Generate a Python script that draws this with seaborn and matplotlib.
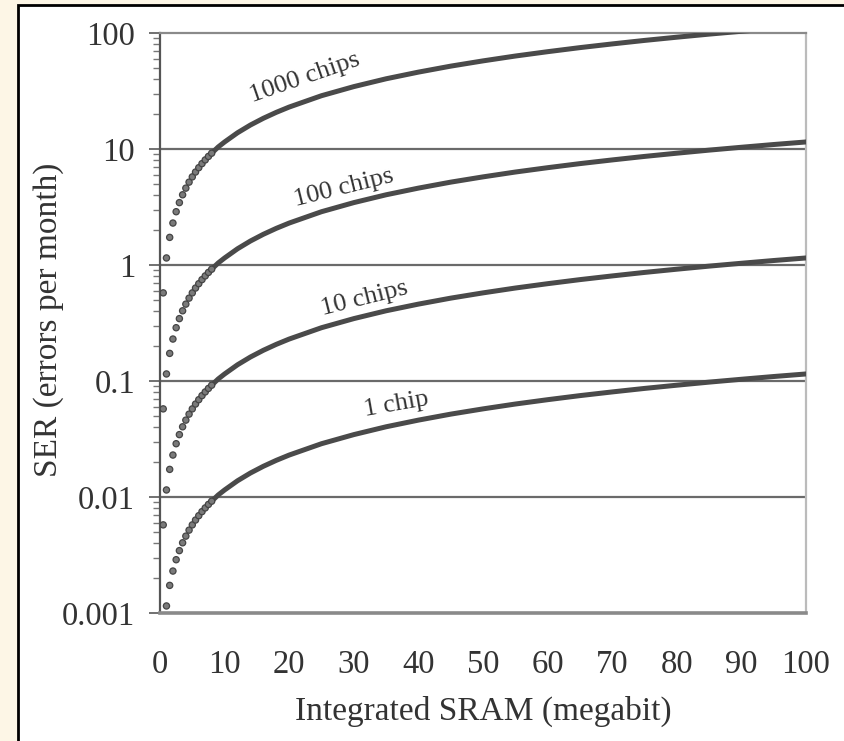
import numpy as np
import pandas as pd
import matplotlib
matplotlib.use("Agg")
import matplotlib.pyplot as plt
import matplotlib.ticker as mticker
from matplotlib.patches import Rectangle
import seaborn as sns

# ---- data ----
series_names = ["1 chip", "10 chips", "100 chips", "1000 chips"]

mbit_dots = [0.5, 1.0, 1.5, 2.0, 2.5, 3.0, 3.5, 4.0, 4.5, 5.0, 5.5, 6.0, 6.5, 7.0, 7.5, 8.0]
ser_1_dots = [0.000575, 0.00115, 0.00173, 0.0023, 0.00288, 0.00345, 0.00403, 0.0046,
              0.00518, 0.00575, 0.00633, 0.0069, 0.00748, 0.00805, 0.00863, 0.0092]
ser_10_dots = [0.00575, 0.0115, 0.0173, 0.023, 0.0288, 0.0345, 0.0403, 0.046,
               0.0518, 0.0575, 0.0633, 0.069, 0.0748, 0.0805, 0.0863, 0.092]
ser_100_dots = [0.0575, 0.115, 0.173, 0.23, 0.288, 0.345, 0.403, 0.46,
                0.518, 0.575, 0.633, 0.69, 0.748, 0.805, 0.863, 0.92]
ser_1000_dots = [0.575, 1.15, 1.73, 2.3, 2.88, 3.45, 4.03, 4.6,
                 5.18, 5.75, 6.33, 6.9, 7.48, 8.05, 8.63, 9.2]

mbit_line = [7.5, 8, 9, 10, 12, 14, 16, 18, 20, 25, 30, 35, 40, 45, 50, 55, 60,
             65, 70, 75, 80, 85, 90, 95, 100]
ser_1_line = [0.00863, 0.0092, 0.0104, 0.0115, 0.0138, 0.0161, 0.0184, 0.0207, 0.023,
              0.0288, 0.0345, 0.0403, 0.046, 0.0518, 0.0575, 0.0633, 0.069, 0.0748,
              0.0805, 0.0863, 0.092, 0.0978, 0.1035, 0.1093, 0.115]
ser_10_line = [0.0863, 0.092, 0.104, 0.115, 0.138, 0.161, 0.184, 0.207, 0.23,
               0.288, 0.345, 0.403, 0.46, 0.518, 0.575, 0.633, 0.69, 0.748,
               0.805, 0.863, 0.92, 0.978, 1.035, 1.093, 1.15]
ser_100_line = [0.863, 0.92, 1.04, 1.15, 1.38, 1.61, 1.84, 2.07, 2.3,
                2.88, 3.45, 4.03, 4.6, 5.18, 5.75, 6.33, 6.9, 7.48,
                8.05, 8.63, 9.2, 9.78, 10.35, 10.93, 11.5]
ser_1000_line = [8.63, 9.2, 10.4, 11.5, 13.8, 16.1, 18.4, 20.7, 23,
                 28.8, 34.5, 40.3, 46, 51.8, 57.5, 63.3, 69, 74.8,
                 80.5, 86.3, 92, 97.8, 103.5, 109.3, 115]

x_ticks = [0, 10, 20, 30, 40, 50, 60, 70, 80, 90, 100]
y_ticks = [0.001, 0.01, 0.1, 1, 10, 100]
y_tick_labels = ["0.001", "0.01", "0.1", "1", "10", "100"]

# label placement (data coords) and angle
label_x = [36.6, 31.6, 28.5, 22.4]
label_y = [0.063, 0.51, 4.6, 41.0]
label_rot = [10, 14, 14, 19]

# ---- build tables ----
dots = pd.DataFrame({
    "mbit": mbit_dots * 4,
    "ser": ser_1_dots + ser_10_dots + ser_100_dots + ser_1000_dots,
    "series": sum([[n] * len(mbit_dots) for n in series_names], []),
})
line = pd.DataFrame({
    "mbit": mbit_line * 4,
    "ser": ser_1_line + ser_10_line + ser_100_line + ser_1000_line,
    "series": sum([[n] * len(mbit_line) for n in series_names], []),
})

sns.set_style("white")
plt.rcParams["font.family"] = ["Liberation Serif", "DejaVu Serif"]

W, H = 844, 741
fig = plt.figure(figsize=(W / 100, H / 100), dpi=100)
fig.patch.set_facecolor("#FDF6E6")
fig.add_artist(Rectangle((18 / W, -0.05), 1.2, 1 - 5 / H + 0.05,
                         transform=fig.transFigure, facecolor="white",
                         edgecolor="black", lw=2, zorder=-5))

L, R, T, B = 160, 806, 33, 613
ax = fig.add_axes([L / W, 1 - B / H, (R - L) / W, (B - T) / H])
ax.set_facecolor("white")
ax.set_yscale("log")

pal = {n: "#4a4a4a" for n in series_names}
sns.lineplot(data=line, x="mbit", y="ser", hue="series", palette=pal,
             estimator=None, legend=False, lw=3.6, ax=ax, zorder=3)
sns.scatterplot(data=dots, x="mbit", y="ser", hue="series",
                palette={n: "#7a7a7a" for n in series_names},
                edgecolor="#444444", linewidth=0.9, s=20, legend=False,
                ax=ax, zorder=3)

ax.set_xlim(0, 100)
ax.set_ylim(0.001, 100)

# grid lines
for g in [0.01, 0.1, 1, 10]:
    ax.axhline(g, color="#6a6a6a", lw=1.6, zorder=1)

ax.set_xticks(x_ticks)
ax.set_xticklabels([str(t) for t in x_ticks])
ax.set_yticks(y_ticks)
ax.set_yticklabels(y_tick_labels)
ax.yaxis.set_minor_locator(mticker.LogLocator(base=10, subs=np.arange(2, 10)))
ax.yaxis.set_minor_formatter(mticker.NullFormatter())

ax.tick_params(axis="both", which="major", labelsize=23.5, colors="#333333")
ax.tick_params(axis="x", which="major", direction="out", length=9, width=1.3,
               color="#666666", pad=17)
ax.tick_params(axis="y", which="major", direction="out", length=8, width=1.3,
               color="#666666", pad=10, left=True)
ax.tick_params(axis="y", which="minor", direction="out", length=5, width=1.0,
               color="#777777", left=True)

for side, c, w in [("left", "#555555", 1.6), ("bottom", "#8a8a8a", 2.6),
                   ("top", "#8a8a8a", 1.6), ("right", "#bbbbbb", 1.6)]:
    ax.spines[side].set_visible(True)
    ax.spines[side].set_color(c)
    ax.spines[side].set_linewidth(w)

ax.set_xlabel("")
ax.set_ylabel("")
fig.text(483 / W, 1 - 720 / H, "Integrated SRAM (megabit)", fontsize=24,
         color="#333333", ha="center", va="baseline")
fig.text(49 / W, 1 - 320 / H, "SER (errors per month)", fontsize=24,
         color="#333333", ha="center", va="center", rotation=90)

for name, lx, ly, rot in zip(series_names, label_x, label_y, label_rot):
    ax.text(lx, ly, name, fontsize=19, color="#333333", ha="center",
            va="center", rotation=rot, rotation_mode="anchor", zorder=4)

fig.savefig("out.png", dpi=100, facecolor=fig.get_facecolor())
